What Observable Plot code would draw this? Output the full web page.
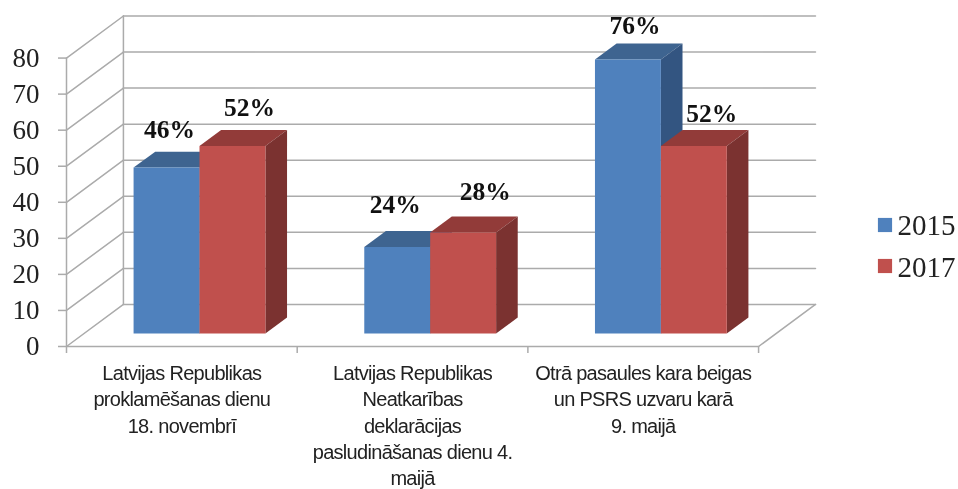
<!DOCTYPE html>
<html>
<head>
<meta charset="utf-8">
<script src="https://cdn.jsdelivr.net/npm/d3@7"></script>
<script src="https://cdn.jsdelivr.net/npm/@observablehq/plot@0.6"></script>
<style>
html,body{margin:0;padding:0;background:#fff}
svg{display:block;filter:blur(0.45px)}
.cat text{letter-spacing:-0.7px}
</style>
</head>
<body>
<div id="chart"></div>
<script>
const categories = [
  "Latvijas Republikas\nproklamēšanas dienu\n18. novembrī",
  "Latvijas Republikas\nNeatkarības\ndeklarācijas\npasludināšanas dienu 4.\nmaijā",
  "Otrā pasaules kara beigas\nun PSRS uzvaru karā\n9. maijā"
];
const years = ["2015", "2017"];
const values2015 = [46, 24, 76];
const values2017 = [52, 28, 52];
const yTicks = [0, 10, 20, 30, 40, 50, 60, 70, 80];
const labelShift2015 = [[3, -30], [-2, -34], [7, -25]];
const labelShift2017 = [[17, -30], [22, -33], [18, -24]];

const colors = {
  "2015": {front: "#4f81bd", top: "#3e6490", side: "#335581"},
  "2017": {front: "#c0504d", top: "#923b39", side: "#7b3230"}
};
const grid = "#ababab";

// Oblique projection: depth d (0 = front, 1 = back wall)
const depthX = 57 / 231, depthY = 42 / 3.6;
const P = (c, v, d = 0) => ({x: c + d * depthX, y: v + d * depthY});
const barW = 1 / 3.5, d0 = 0.31, d1 = 0.69;

const face = (pts, fill) => Plot.line(pts, {x: "x", y: "y", fill, stroke: "none", curve: "linear-closed"});
const seg = (pts) => Plot.line(pts, {x: "x", y: "y", stroke: grid, strokeWidth: 1.5});

function bar(ci, si, v) {
  const c = colors[years[si]];
  const a = ci + 0.5 - barW + si * barW, b = a + barW;
  return [
    face([P(a, v, d0), P(b, v, d0), P(b, v, d1), P(a, v, d1)], c.top),
    face([P(b, 0, d0), P(b, v, d0), P(b, v, d1), P(b, 0, d1)], c.side),
    face([P(a, 0, d0), P(b, 0, d0), P(b, v, d0), P(a, v, d0)], c.front)
  ];
}

const series = [values2015, values2017];
const shifts = [labelShift2015, labelShift2017];
const barMarks = [];
series.forEach((vals, si) => vals.forEach((v, ci) => barMarks.push(...bar(ci, si, v))));

const labelMarks = [];
series.forEach((vals, si) => vals.forEach((v, ci) => {
  const a = ci + 0.5 - barW + si * barW + barW / 2;
  labelMarks.push(Plot.text([P(a, v, d0)], {
    x: "x", y: "y", text: () => v + "%",
    dx: shifts[si][ci][0], dy: shifts[si][ci][1],
    fontFamily: "Liberation Serif", fontWeight: "bold", fontSize: 25.5, fill: "#111",
    textAnchor: "middle", lineAnchor: "bottom"
  }));
}));

const ML = 66, MR = 143, MT = 15.5, MB = 143;
const chart = Plot.plot({
  width: 958, height: 489,
  marginLeft: ML, marginRight: MR, marginTop: MT, marginBottom: MB,
  x: {type: "linear", domain: [0, 3 + depthX], axis: null},
  y: {type: "linear", domain: [0, 80 + depthY], axis: null},
  marks: [
    // walls and floor
    ...yTicks.map(t => seg([P(0, t, 1), P(3, t, 1)])),
    ...yTicks.map(t => seg([P(0, t, 0), P(0, t, 1)])),
    seg([P(0, 0, 0), P(0, 80, 0)]),
    seg([P(0, 0, 1), P(0, 80, 1)]),
    seg([P(0, 0, 0), P(3, 0, 0)]),
    seg([P(3, 0, 0), P(3, 0, 1)]),
    Plot.ruleX([0, 1, 2, 3], {x: d => d, y1: 0, y2: -7 * 80 / 288, stroke: grid, strokeWidth: 1.5}),
    Plot.axisY({ticks: yTicks, tickSize: 8, tickPadding: 19, stroke: grid, strokeWidth: 1.5,
      fontFamily: "Liberation Serif", fontSize: 27, fill: "#222", label: null}),
    ...barMarks,
    ...labelMarks,
    // category labels
    Plot.text(categories, {
      x: (d, i) => i + 0.5, y: () => 0, text: d => d,
      dy: 15, lineAnchor: "top", lineHeight: 26.3 / 20,
      fontFamily: "Liberation Sans", fontSize: 20, fill: "#222", className: "cat"
    }),
    // legend
    ...years.map((y, i) => Plot.dot([y], {
      frameAnchor: "top-left", dx: 884.5 - ML, dy: 224.5 + i * 41 - MT,
      symbol: "square", r: 8, fill: colors[y].front, stroke: "none"
    })),
    ...years.map((y, i) => Plot.text([y], {
      frameAnchor: "top-left", dx: 897 - ML, dy: 225 + i * 42 - MT, lineAnchor: "middle",
      text: d => d, textAnchor: "start", fontFamily: "Liberation Serif", fontSize: 29, fill: "#222"
    }))
  ]
});
document.getElementById("chart").appendChild(chart);
</script>
</body>
</html>
